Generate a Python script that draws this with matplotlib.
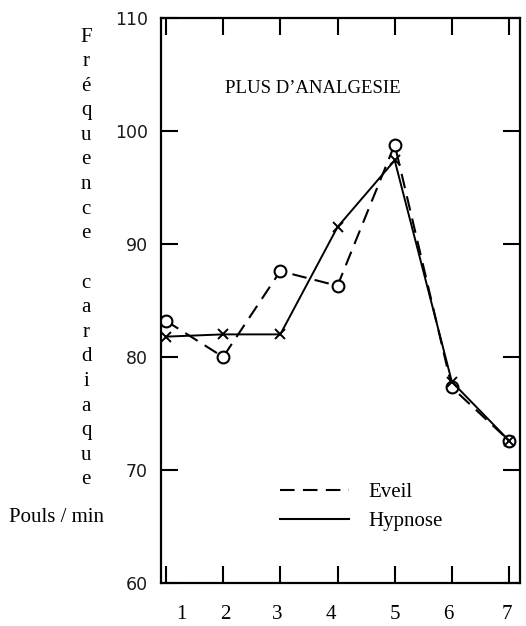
import matplotlib
matplotlib.use("Agg")
import matplotlib.pyplot as plt
from matplotlib.lines import Line2D

# séances 1..7
seances = [1, 2, 3, 4, 5, 6, 7]
eveil = [83.2, 80.0, 87.6, 86.3, 98.8, 77.3, 72.6]
hypnose = [81.8, 82.0, 82.0, 91.5, 97.4, 77.8, 72.6]

y_ticks = [60, 70, 80, 90, 100, 110]
x_labels = ["1", "2", "3", "4", "5", "6", "7"]
# tick labels are a bit offset from the tick marks in the original scan
x_label_pos = [1.27, 2.03, 2.94, 3.88, 5.0, 5.93, 6.96]

ylabel_text = "Fréquence cardiaque"
serif = "Liberation Serif"

fig = plt.figure(figsize=(5.26, 6.26), dpi=100)
ax = fig.add_axes([0.306, 0.0687, 0.6825, 0.9026])

ax.plot(seances, eveil, color="black", lw=1.5, dashes=(7, 4),
        marker="o", markersize=8.5, markerfacecolor="white",
        markeredgecolor="black", markeredgewidth=1.5)
ax.plot(seances, hypnose, color="black", lw=1.4, ls="-",
        marker="x", markersize=6.5, markeredgewidth=1.4)

ax.set_xlim(0.913, 7.19)
ax.set_ylim(60, 110)

for s in ax.spines.values():
    s.set_linewidth(1.6)
    s.set_color("black")

# x axis: marks inward top and bottom, numbers on separate minor ticks
ax.xaxis.remove_overlapping_locs = False
ax.set_xticks(seances)
ax.set_xticklabels([])
ax.set_xticks(x_label_pos, minor=True)
ax.set_xticklabels(x_labels, minor=True, fontfamily=serif, fontsize=15)
ax.tick_params(axis="x", which="major", direction="in", length=12, width=1.5,
               top=True, bottom=True)
ax.tick_params(axis="x", which="minor", length=0, pad=16)

ax.set_yticks(y_ticks)
ax.set_yticklabels([str(v) for v in y_ticks], fontfamily="DejaVu Sans",
                   fontsize=12.5, color="#1a1a1a")
ax.tick_params(axis="y", direction="in", length=12, width=1.5,
               left=True, right=True, pad=9.5)

ax.text(0.178, 0.876, "PLUS D\u2019ANALGESIE", transform=ax.transAxes,
        fontfamily=serif, fontsize=13.5, ha="left", va="center")

handles = [Line2D([], [], color="black", lw=1.5, dashes=(7, 4)),
           Line2D([], [], color="black", lw=1.5)]
ax.legend(handles, ["Eveil", "Hypnose"], loc="upper left",
          bbox_to_anchor=(0.331, 0.178), frameon=False, borderpad=0,
          borderaxespad=0, handlelength=3.3, handletextpad=0.95,
          labelspacing=0.45, prop={"family": serif, "size": 15})

# stacked vertical axis title
letters = list(ylabel_text)
y0, step = 1 - 37 / 626, 24.6 / 626
for i, ch in enumerate(letters):
    if ch != " ":
        fig.text(0.1635, y0 - i * step, ch, fontfamily=serif, fontsize=15,
                 ha="center", va="center")
fig.text(0.108, 1 - 518 / 626, "Pouls / min", fontfamily=serif, fontsize=15,
         ha="center", va="center")

fig.savefig("out.png", dpi=100)
